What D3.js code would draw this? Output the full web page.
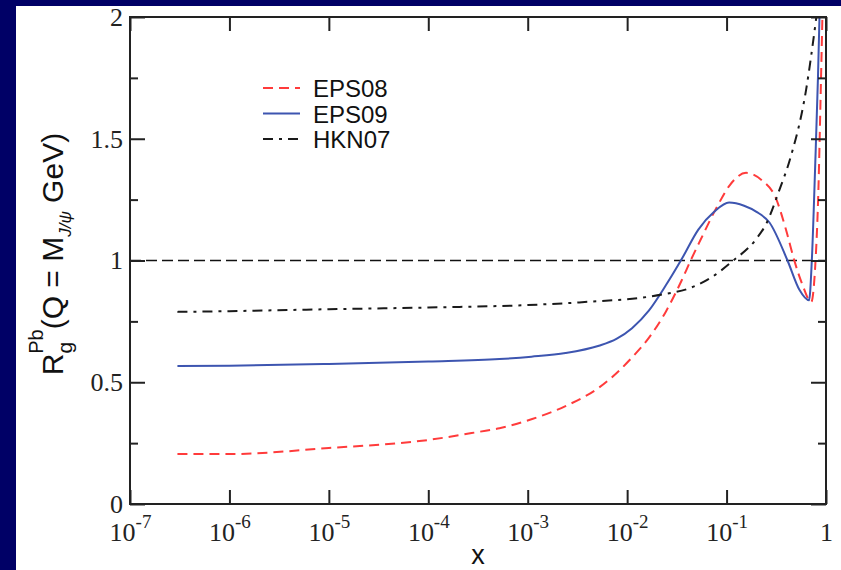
<!DOCTYPE html>
<html>
<head>
<meta charset="utf-8">
<script src="https://d3js.org/d3.v7.min.js"></script>
<style>
    body { margin: 0; background: #000066; overflow: hidden; }
    #ratio-chart { position: absolute; left: 0; top: 0; }
</style>
</head>
<body>
<div id="ratio-chart"></div>
<script>
// tick positions
var xTickPowers = [-7, -6, -5, -4, -3, -2, -1, 0];
var yMajorTicks = [0, 0.5, 1, 1.5, 2];
var yMinorTicks = [0.25, 0.75, 1.25, 1.75];

// legend / series names
var seriesNames = ["EPS08", "EPS09", "HKN07"];

// EPS08 (red dashed)
var eps08X = [3e-7, 1e-6, 1e-5, 1e-4, 3.3e-4, 5.2e-4, 1.09e-3, 2.4e-3, 5.2e-3, 7.8e-3, 0.0112, 0.0166, 0.0245, 0.0355, 0.0435, 0.054, 0.080, 0.108, 0.157, 0.226, 0.31, 0.40, 0.48, 0.58, 0.71, 0.78, 0.84, 0.88, 0.92];
var eps08R = [0.205, 0.205, 0.23, 0.263, 0.297, 0.311, 0.348, 0.402, 0.478, 0.537, 0.602, 0.683, 0.79, 0.92, 1.0, 1.08, 1.22, 1.31, 1.36, 1.33, 1.26, 1.12, 1.0, 0.9, 0.83, 0.98, 1.3, 1.65, 2.0];

// EPS09 (blue solid)
var eps09X = [3e-7, 1e-6, 1e-5, 1e-4, 5.2e-4, 1.09e-3, 2.4e-3, 5.2e-3, 7.8e-3, 0.0112, 0.0166, 0.0245, 0.0355, 0.052, 0.075, 0.106, 0.15, 0.20, 0.27, 0.41, 0.54, 0.676, 0.72, 0.78, 0.83, 0.86];
var eps09R = [0.567, 0.568, 0.575, 0.585, 0.595, 0.605, 0.62, 0.65, 0.678, 0.722, 0.795, 0.898, 1.007, 1.127, 1.2, 1.238, 1.225, 1.20, 1.156, 1.0, 0.88, 0.837, 1.0, 1.4, 1.75, 2.0];

// HKN07 (black dash-dot)
var hkn07X = [3e-7, 1e-6, 1e-5, 1e-4, 1e-3, 3.3e-3, 0.0224, 0.045, 0.07, 0.113, 0.2, 0.25, 0.34, 0.43, 0.63, 0.80];
var hkn07R = [0.789, 0.792, 0.80, 0.807, 0.817, 0.828, 0.86, 0.89, 0.93, 0.995, 1.09, 1.15, 1.29, 1.41, 1.70, 2.0];

/**
 * Constructor for the gluon ratio chart
 */
function RatioChart(series)
{
    var self = this;

    self.series = series;
    self.init();
}

/**
 * Sets up the svg, the white panel and the scales
 */
RatioChart.prototype.init = function()
{
    var self = this;
    self.margin = {top: 17, right: 15, bottom: 66, left: 130};
    self.svgWidth = 841;
    self.svgHeight = 570;

    self.svg = d3.select("#ratio-chart").append("svg")
        .attr("width", self.svgWidth)
        .attr("height", self.svgHeight);

    // white slide panel on the navy background
    self.svg.append("rect")
        .attr("x", 16)
        .attr("y", 6)
        .attr("width", self.svgWidth - 16)
        .attr("height", self.svgHeight - 6)
        .style("fill", "#ffffff");

    self.x = d3.scaleLog().domain([1e-7, 1]).range([self.margin.left, self.svgWidth - self.margin.right]);
    self.y = d3.scaleLinear().domain([0, 2]).range([self.svgHeight - self.margin.bottom, self.margin.top]);
};

/**
 * Draws curves, axes, labels and legend
 */
RatioChart.prototype.update = function()
{
    var self = this;
    var x = self.x, y = self.y;
    var x0 = x.range()[0], x1 = x.range()[1];
    var y0 = y.range()[0], y1 = y.range()[1];
    var ink = "#222222";

    self.svg.append("clipPath")
        .attr("id", "plot-clip")
        .append("rect")
        .attr("x", x0).attr("y", y1)
        .attr("width", x1 - x0).attr("height", y0 - y1);

    // reference line at R = 1
    self.svg.append("line")
        .attr("x1", x0).attr("x2", x1)
        .attr("y1", y(1)).attr("y2", y(1))
        .style("stroke", "#111")
        .style("stroke-width", 1.6)
        .style("stroke-dasharray", "11,5");

    var valueline = d3.line()
        .x(function(d) { return x(d[0]); })
        .y(function(d) { return y(d[1]); })
        .curve(d3.curveMonotoneX);

    self.svg.append("g")
        .attr("clip-path", "url(#plot-clip)")
        .selectAll("path")
        .data(self.series)
        .enter().append("path")
        .attr("d", function(s) { return valueline(s.points); })
        .style("fill", "none")
        .style("stroke", function(s) { return s.color; })
        .style("stroke-width", 2)
        .style("stroke-dasharray", function(s) { return s.dash; });

    var xTicks = xTickPowers.map(function(p) { return Math.pow(10, p); });

    // Add the X Axes (bottom with labels, top mirrored)
    var xAxisBottom = self.svg.append("g")
        .attr("transform", "translate(0," + y0 + ")")
        .call(d3.axisBottom(x).tickValues(xTicks).tickSize(-14).tickSizeOuter(0).tickFormat(""));

    xAxisBottom.selectAll(".tick").each(function(d, i) {
        var t = d3.select(this).append("text")
            .attr("y", 37)
            .attr("fill", ink)
            .style("font-family", "'Liberation Serif', 'Times New Roman', serif")
            .style("font-size", "26px")
            .attr("text-anchor", "middle");
        if (xTickPowers[i] === 0) {
            t.text("1");
        } else {
            t.text("10");
            t.append("tspan")
                .attr("dy", -13)
                .style("font-size", "19px")
                .text(xTickPowers[i]);
        }
    });

    self.svg.append("g")
        .attr("transform", "translate(0," + y1 + ")")
        .call(d3.axisTop(x).tickValues(xTicks).tickSize(-14).tickSizeOuter(0).tickFormat(""));

    // Add the Y Axes (left with labels, right mirrored)
    self.svg.append("g")
        .attr("class", "y-axis-left")
        .attr("transform", "translate(" + x0 + ",0)")
        .call(d3.axisLeft(y).tickValues(yMajorTicks).tickSize(-15).tickSizeOuter(0)
            .tickPadding(7).tickFormat(d3.format("")));

    self.svg.append("g")
        .attr("transform", "translate(" + x0 + ",0)")
        .call(d3.axisLeft(y).tickValues(yMinorTicks).tickSize(-8).tickSizeOuter(0).tickFormat(""));

    self.svg.append("g")
        .attr("transform", "translate(" + x1 + ",0)")
        .call(d3.axisRight(y).tickValues(yMajorTicks).tickSize(-15).tickSizeOuter(0).tickFormat(""));

    self.svg.append("g")
        .attr("transform", "translate(" + x1 + ",0)")
        .call(d3.axisRight(y).tickValues(yMinorTicks).tickSize(-8).tickSizeOuter(0).tickFormat(""));

    self.svg.selectAll(".domain").remove();
    self.svg.selectAll(".tick line")
        .style("stroke", ink)
        .style("stroke-width", 2);

    self.svg.select(".y-axis-left").selectAll("text")
        .attr("fill", ink)
        .style("font-family", "'Liberation Serif', 'Times New Roman', serif")
        .style("font-size", "26px");

    // frame
    self.svg.append("rect")
        .attr("x", x0).attr("y", y1)
        .attr("width", x1 - x0).attr("height", y0 - y1)
        .style("fill", "none")
        .style("stroke", ink)
        .style("stroke-width", 2);

    // axis titles
    self.svg.append("text")
        .attr("x", (x0 + x1) / 2)
        .attr("y", 564)
        .attr("text-anchor", "middle")
        .attr("fill", "#111")
        .style("font-family", "'Liberation Sans', Arial, sans-serif")
        .style("font-size", "27px")
        .text("x");

    var yTitle = self.svg.append("text")
        .attr("transform", "translate(63,254) rotate(-90)")
        .attr("text-anchor", "middle")
        .attr("fill", "#111")
        .style("font-family", "'Liberation Sans', Arial, sans-serif")
        .style("font-size", "30px");
    yTitle.append("tspan").text("R");
    yTitle.append("tspan").attr("dy", 9).style("font-size", "21px").text("g");
    yTitle.append("tspan").attr("dx", -12).attr("dy", -29).style("font-size", "20px").text("Pb");
    yTitle.append("tspan").attr("dy", 20).text("(Q = M");
    yTitle.append("tspan").attr("dy", 8).style("font-size", "17px").style("font-style", "italic").text("J/ψ");
    yTitle.append("tspan").attr("dy", -8).text(" GeV)");

    // legend
    var legend = self.svg.append("g")
        .selectAll("g")
        .data(self.series)
        .enter().append("g")
        .attr("transform", function(s, i) { return "translate(263," + (88 + i * 25.5) + ")"; });

    legend.append("line")
        .attr("x1", 0).attr("x2", 37)
        .style("stroke", function(s) { return s.color; })
        .style("stroke-width", 2)
        .style("stroke-dasharray", function(s) { return s.dash; });

    legend.append("text")
        .attr("x", 50)
        .attr("y", 9)
        .attr("fill", "#111")
        .style("font-family", "'Liberation Sans', Arial, sans-serif")
        .style("font-size", "24px")
        .text(function(s) { return s.name; });
};

var series = [
    {name: seriesNames[0], color: "#ff3b3b", dash: "10,6", points: d3.zip(eps08X, eps08R)},
    {name: seriesNames[1], color: "#3d55b0", dash: null, points: d3.zip(eps09X, eps09R)},
    {name: seriesNames[2], color: "#1a1a1a", dash: "10,6,3,6", points: d3.zip(hkn07X, hkn07R)}
];

var chart = new RatioChart(series);
chart.update();
</script>
</body>
</html>
